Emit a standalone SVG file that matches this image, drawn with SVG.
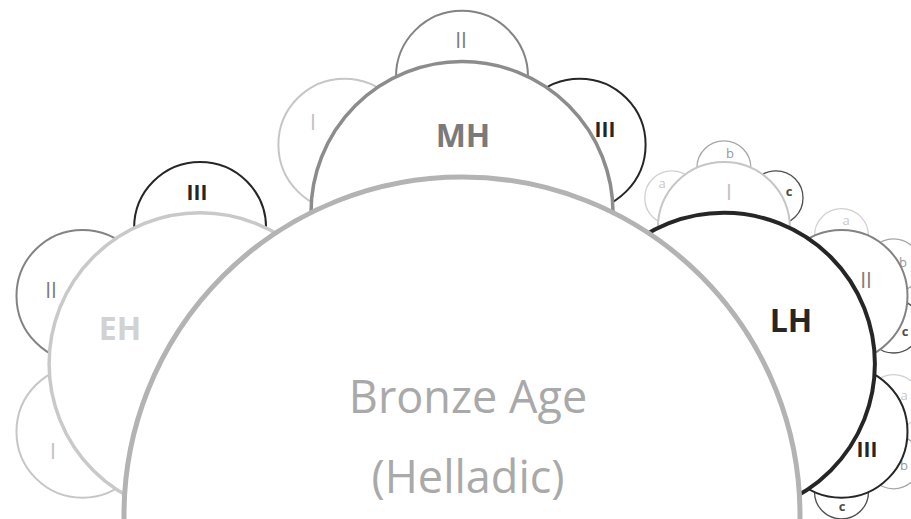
<svg xmlns="http://www.w3.org/2000/svg" width="911" height="519" viewBox="0 0 911 519">
<style>
  circle { fill: #ffffff; }
  text { font-family: "Open Sans", "Liberation Sans", sans-serif; text-anchor: middle; }
  .r0 { stroke: #b3b3b3; stroke-width: 5; }
  .r1 { stroke-width: 3.5; }
  .r2 { stroke-width: 2; }
  .r3 { stroke-width: 1.3; }
  .light1 { stroke: #c9c9c9; }
  .mid1 { stroke: #8c8c8c; }
  .dark1 { stroke: #262626; stroke-width: 4; }
  .light2 { stroke: #c6c6c6; }
  .mid2 { stroke: #838383; }
  .dark2 { stroke: #262626; }
  .light3 { stroke: #d0d0d0; }
  .mid3 { stroke: #a6a6a6; }
  .dark3 { stroke: #4d4d4d; }
  .t0 { font-size: 45px; fill: #a9a9a9; }
  .t1 { font-size: 32px; font-weight: bold; }
  .t2 { font-size: 21px; }
  .t3 { font-size: 13px; }
  .tl1 { fill: #d2d2d2; }
  .tm1 { fill: #7a7a7a; }
  .td1 { fill: #262626; }
  .tl2 { fill: #c2c2c2; }
  .tm2 { fill: #7d7d7d; }
  .td2 { fill: #262626; font-weight: bold; }
  .tl3 { fill: #c8c8c8; }
  .tm3 { fill: #999999; }
  .td3 { fill: #4d4d4d; font-weight: bold; }
</style>
<g id="connectors"></g>

<!-- level 3: LH sub-sub-periods -->
<g id="LH-I-a"><circle class="r3 light3" cx="671.8" cy="197.9" r="27"/><text class="t3 tl3" x="662" y="188">a</text></g>
<g id="LH-I-b"><circle class="r3 mid3" cx="723.9" cy="167.8" r="27"/><text class="t3 tm3" x="730" y="158">b</text></g>
<g id="LH-I-c"><circle class="r3 dark3" cx="776.0" cy="197.9" r="27"/><text class="t3 td3" x="789" y="196">c</text></g>
<g id="LH-II-a"><circle class="r3 light3" cx="841.5" cy="235.7" r="27"/><text class="t3 tl3" x="846" y="225">a</text></g>
<g id="LH-II-b"><circle class="r3 mid3" cx="893.6" cy="265.8" r="27"/><text class="t3 tm3" x="903" y="267">b</text></g>
<g id="LH-II-c"><circle class="r3 dark3" cx="893.6" cy="326.0" r="27"/><text class="t3 td3" x="905" y="336">c</text></g>
<g id="LH-III-a"><circle class="r3 light3" cx="893.6" cy="401.6" r="27"/><text class="t3 tl3" x="904" y="400">a</text></g>
<g id="LH-III-b"><circle class="r3 mid3" cx="893.6" cy="461.8" r="27"/><text class="t3 tm3" x="904" y="470">b</text></g>
<g id="LH-III-c"><circle class="r3 dark3" cx="841.5" cy="491.9" r="27"/><text class="t3 td3" x="842" y="511">c</text></g>

<!-- level 2 -->
<g id="EH-I"><circle class="r2 light2" cx="82.5" cy="431.7" r="66"/><text class="t2 tl2" x="53" y="459">I</text></g>
<g id="EH-II"><circle class="r2 mid2" cx="82.5" cy="295.9" r="66"/><text class="t2 tm2" x="51" y="298">II</text></g>
<g id="EH-III"><circle class="r2 dark2" cx="200.1" cy="228.0" r="66"/><text class="t2 td2" x="197" y="200">III</text></g>
<g id="MH-I"><circle class="r2 light2" cx="344.4" cy="144.7" r="66"/><text class="t2 tl2" x="313" y="130">I</text></g>
<g id="MH-II"><circle class="r2 mid2" cx="462" cy="76.8" r="66"/><text class="t2 tm2" x="461" y="48">II</text></g>
<g id="MH-III"><circle class="r2 dark2" cx="579.6" cy="144.7" r="66"/><text class="t2 td2" x="605" y="137">III</text></g>
<g id="LH-I"><circle class="r2 light2" cx="723.9" cy="228.0" r="66"/><text class="t2 tl2" x="729" y="200">I</text></g>
<g id="LH-II"><circle class="r2 mid2" cx="841.5" cy="295.9" r="66"/><text class="t2 tm2" x="866" y="288">II</text></g>
<g id="LH-III"><circle class="r2 dark2" cx="841.5" cy="431.7" r="66"/><text class="t2 td2" x="867" y="457">III</text></g>

<!-- level 1 -->
<g id="EH"><circle class="r1 light1" cx="200.1" cy="363.8" r="151"/><text class="t1 tl1" x="120" y="340">EH</text></g>
<g id="MH"><circle class="r1 mid1" cx="462" cy="212.6" r="151"/><text class="t1 tm1" x="463" y="147">MH</text></g>
<g id="LH"><circle class="r1 dark1" cx="723.9" cy="363.8" r="151"/><text class="t1 td1" x="791" y="332">LH</text></g>

<!-- root -->
<g id="BronzeAge"><circle class="r0" cx="462" cy="515" r="338"/>
<text class="t0" x="468" y="413">Bronze Age</text>
<text class="t0" x="468" y="493">(Helladic)</text></g>
</svg>
